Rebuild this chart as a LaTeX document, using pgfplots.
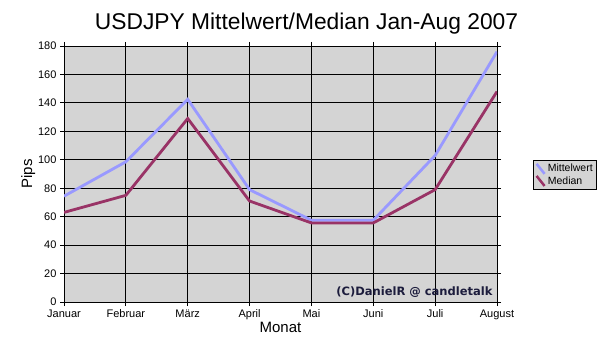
\documentclass[border=0pt]{standalone}
\usepackage{fontspec}
\setmainfont{Liberation Sans}
\newfontfamily\dejabold{DejaVu Sans}
\usepackage{pgfplots}
\pgfplotsset{compat=1.18}
\definecolor{bgray}{HTML}{D4D4D4}
\definecolor{mittel}{HTML}{9999FF}
\definecolor{median}{HTML}{993366}
\definecolor{copy}{HTML}{1C1C3C}
\begin{document}
\begin{tikzpicture}[x=1bp,y=1bp]
\useasboundingbox (0,0) rectangle (614,355);
\begin{axis}[
  at={(64bp,53bp)}, anchor=south west,
  scale only axis, width=433bp, height=256bp,
  xmin=0, xmax=7, ymin=0, ymax=180,
  xtick={0,...,7},
  xticklabels={Januar,Februar,März,April,Mai,Juni,Juli,August},
  ytick={0,20,...,180},
  grid=major, major grid style={black, line width=0.8pt},
  axis background/.style={fill=bgray},
  axis line style={black, line width=0.8pt},
  tick align=outside, major tick length=4bp,
  tick style={black, line width=0.8pt},
  tick label style={font=\fontsize{11bp}{12bp}\selectfont},
  /pgf/number format/assume math mode=true,
  xlabel={Monat}, ylabel={Pips},
  label style={font=\fontsize{15bp}{16bp}\selectfont},
  xlabel style={yshift=4bp},
  ylabel style={yshift=-4bp},
  title={USDJPY Mittelwert/Median Jan-Aug 2007},
  title style={font=\fontsize{22.8bp}{24bp}\selectfont, xshift=26bp, yshift=2bp},
  legend style={at={(1.083,0.555)}, anchor=north west, fill=bgray, draw=black, line width=0.8pt,
    font=\fontsize{10.5bp}{12bp}\selectfont, inner sep=2bp, row sep=-1bp},
  legend cell align=left,
  legend image code/.code={\draw[#1, line width=2.5bp] (0bp,5bp) -- (8bp,-5bp);},
]
\addplot[mittel, line width=2.8bp] coordinates {
 (0,74.4) (1,98.6) (2,142.5) (3,79) (4,57.5) (5,57.5) (6,103) (7,176)};
\addlegendentry{Mittelwert}
\addplot[median, line width=2.8bp] coordinates {
 (0,63) (1,75) (2,129) (3,71) (4,55.6) (5,55.6) (6,79) (7,148)};
\addlegendentry{Median}
\node[anchor=south east, inner sep=0pt, text=copy, font=\dejabold\bfseries\fontsize{11.5bp}{12bp}\selectfont]
  at (rel axis cs:0.99,0.015) {(C)DanielR @ candletalk};
\end{axis}
\end{tikzpicture}
\end{document}
